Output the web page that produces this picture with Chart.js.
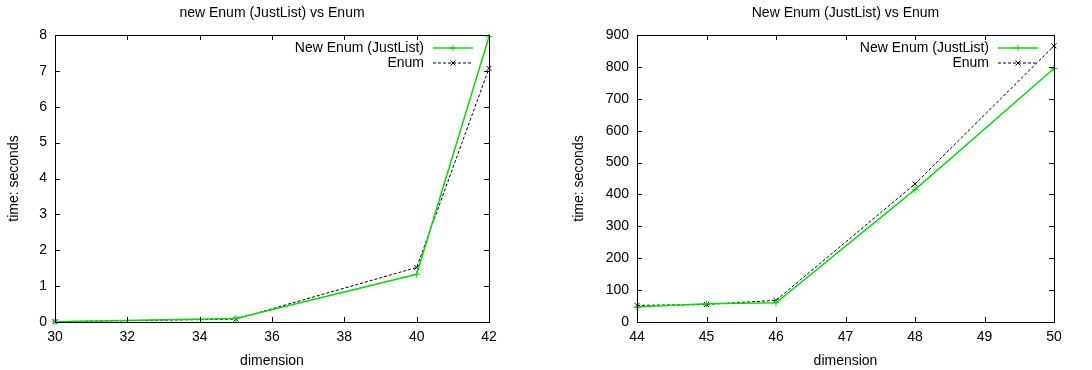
<!DOCTYPE html>
<html>
<head>
<meta charset="utf-8">
<script src="https://cdn.jsdelivr.net/npm/chart.js@4"></script>
<style>
  body { margin: 0; background: #fff; }
  .wrap { display: flex; width: 1092px; height: 370px; }
  .box { position: relative; width: 546px; height: 370px; }
</style>
</head>
<body>
<div class="wrap">
  <div class="box"><canvas id="left"></canvas></div>
  <div class="box"><canvas id="right"></canvas></div>
</div>
<script>
// left chart
const leftDims = [30, 35, 40, 42];
const leftNew = [0.01, 0.1, 1.33, 7.95];
const leftOld = [0.01, 0.08, 1.52, 7.07];
const leftXTicks = [30, 32, 34, 36, 38, 40, 42];
const leftYTicks = [0, 1, 2, 3, 4, 5, 6, 7, 8];

// right chart
const rightDims = [44, 45, 46, 48, 50];
const rightNew = [47, 57, 60, 415, 795];
const rightOld = [52, 55, 68, 433, 866];
const rightXTicks = [44, 45, 46, 47, 48, 49, 50];
const rightYTicks = [0, 100, 200, 300, 400, 500, 600, 700, 800, 900];

const FONT = { family: '"Liberation Sans", Arial, sans-serif', size: 14 };
const GREEN = '#00e000';

// gnuplot-ish frame: border box plus inward ticks on all four sides
const framePlugin = {
  id: 'frame',
  afterDatasetsDraw(chart) {
    const { ctx, chartArea: a, scales } = chart;
    ctx.save();
    ctx.strokeStyle = '#000';
    ctx.lineWidth = 1;
    ctx.beginPath();
    scales.x.ticks.forEach(t => {
      const px = Math.round(scales.x.getPixelForValue(t.value)) + 0.5;
      ctx.moveTo(px, a.bottom); ctx.lineTo(px, a.bottom - 5);
      ctx.moveTo(px, a.top); ctx.lineTo(px, a.top + 5);
    });
    scales.y.ticks.forEach(t => {
      const py = Math.round(scales.y.getPixelForValue(t.value)) + 0.5;
      ctx.moveTo(a.left, py); ctx.lineTo(a.left + 5, py);
      ctx.moveTo(a.right, py); ctx.lineTo(a.right - 5, py);
    });
    ctx.stroke();
    ctx.strokeRect(Math.round(a.left) + 0.5, Math.round(a.top) + 0.5,
      Math.round(a.right - a.left), Math.round(a.bottom - a.top));
    ctx.restore();
  }
};

// title centred over the plot area, and the key in the top-right corner
const keyPlugin = {
  id: 'key',
  afterDraw(chart, args, opts) {
    const { ctx, chartArea: a } = chart;
    ctx.save();
    ctx.font = FONT.size + 'px ' + FONT.family;
    ctx.fillStyle = '#000';
    ctx.textAlign = 'center';
    ctx.textBaseline = 'middle';
    ctx.fillText(opts.title, (a.left + a.right) / 2, 13);

    ctx.textAlign = 'right';
    chart.data.datasets.forEach((ds, i) => {
      const y = a.top + 13 + i * 15;
      ctx.fillStyle = '#000';
      ctx.fillText(ds.label, a.right - 65, y);
      const x0 = a.right - 56, x1 = a.right - 16, xm = (x0 + x1) / 2;
      ctx.strokeStyle = ds.borderColor;
      ctx.lineWidth = ds.borderWidth;
      ctx.setLineDash(ds.borderDash || []);
      ctx.beginPath(); ctx.moveTo(x0, y); ctx.lineTo(x1, y); ctx.stroke();
      ctx.setLineDash([]);
      ctx.lineWidth = 1;
      ctx.beginPath();
      if (ds.pointStyle === 'cross') {
        ctx.moveTo(xm - 3, y); ctx.lineTo(xm + 3, y);
        ctx.moveTo(xm, y - 3); ctx.lineTo(xm, y + 3);
      } else {
        ctx.moveTo(xm - 2.5, y - 2.5); ctx.lineTo(xm + 2.5, y + 2.5);
        ctx.moveTo(xm - 2.5, y + 2.5); ctx.lineTo(xm + 2.5, y - 2.5);
      }
      ctx.stroke();
    });
    ctx.restore();
  }
};

function makeChart(id, title, dims, newVals, oldVals, xTicks, yTicks, yWidth, rightPad, yTitlePad) {
  new Chart(document.getElementById(id), {
    type: 'line',
    data: {
      datasets: [
        {
          label: 'New Enum (JustList)',
          data: dims.map((d, i) => ({ x: d, y: newVals[i] })),
          borderColor: GREEN,
          backgroundColor: GREEN,
          borderWidth: 1.5,
          pointStyle: 'cross',
          pointRadius: 3.5,
          pointBorderColor: GREEN,
          pointBorderWidth: 1,
          tension: 0,
          clip: false
        },
        {
          label: 'Enum',
          data: dims.map((d, i) => ({ x: d, y: oldVals[i] })),
          borderColor: '#000',
          backgroundColor: '#000',
          borderWidth: 1,
          borderDash: [3, 2],
          pointStyle: 'crossRot',
          pointRadius: 3.5,
          pointBorderColor: '#000',
          pointBorderWidth: 1,
          tension: 0,
          clip: false
        }
      ]
    },
    options: {
      responsive: false,
      animation: false,
      devicePixelRatio: 1,
      layout: { padding: { left: 0, right: rightPad, top: 35, bottom: 0 } },
      plugins: {
        legend: { display: false },
        tooltip: { enabled: false },
        title: { display: false },
        key: { title: title }
      },
      scales: {
        x: {
          type: 'linear',
          min: xTicks[0],
          max: xTicks[xTicks.length - 1],
          afterBuildTicks: s => { s.ticks = xTicks.map(v => ({ value: v })); },
          afterFit: s => { s.height = 48; },
          grid: { display: false, drawTicks: false },
          border: { display: false },
          ticks: { color: '#000', font: FONT, padding: 7, maxRotation: 0, autoSkip: false },
          title: { display: true, text: 'dimension', color: '#000', font: FONT, padding: { top: 0, bottom: 0 } }
        },
        y: {
          type: 'linear',
          min: yTicks[0],
          max: yTicks[yTicks.length - 1],
          afterBuildTicks: s => { s.ticks = yTicks.map(v => ({ value: v })); },
          afterFit: s => { s.width = yWidth; },
          grid: { display: false, drawTicks: false },
          border: { display: false },
          ticks: { color: '#000', font: FONT, padding: 8, autoSkip: false },
          title: { display: true, text: 'time: seconds', color: '#000', font: FONT, padding: { top: yTitlePad, bottom: 0 } }
        }
      }
    },
    plugins: [framePlugin, keyPlugin]
  });
}

document.getElementById('left').width = 546;
document.getElementById('left').height = 370;
document.getElementById('right').width = 546;
document.getElementById('right').height = 370;

makeChart('left', 'new Enum (JustList) vs Enum', leftDims, leftNew, leftOld, leftXTicks, leftYTicks, 55, 57, 6);
makeChart('right', 'New Enum (JustList) vs Enum', rightDims, rightNew, rightOld, rightXTicks, rightYTicks, 91, 38, 25);
</script>
</body>
</html>
